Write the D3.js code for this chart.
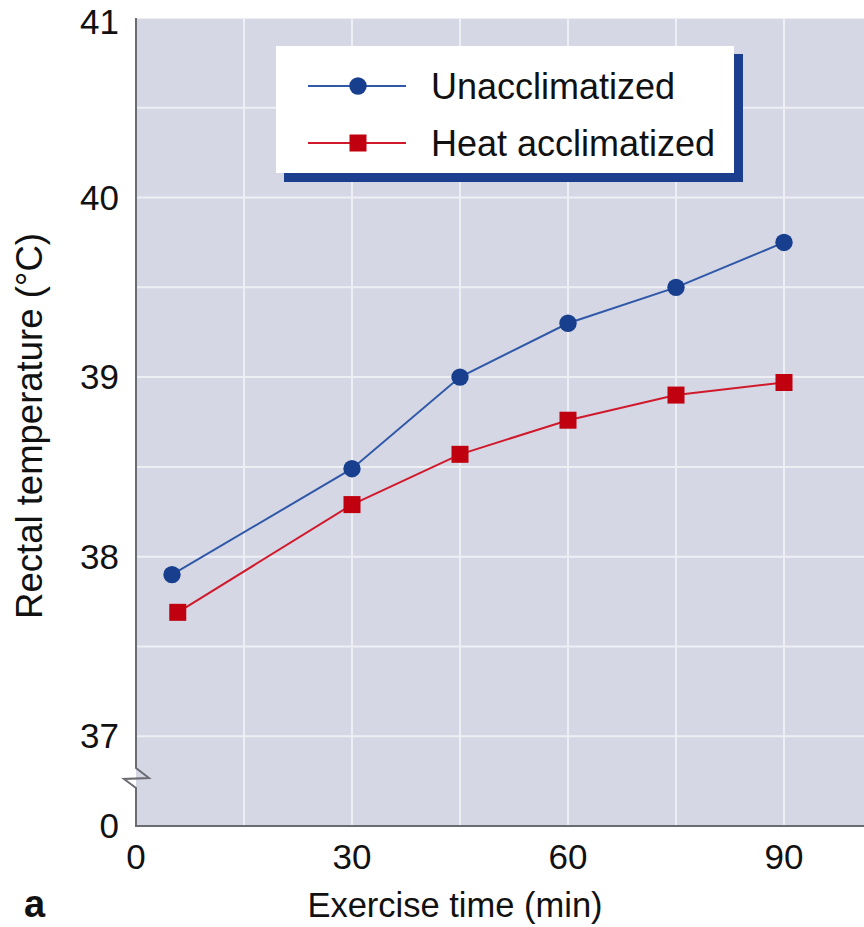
<!DOCTYPE html>
<html>
<head>
<meta charset="utf-8">
<script src="https://cdn.jsdelivr.net/npm/d3@7"></script>
<style>
    body { margin: 0; background: white; }
    svg { display: block; font-family: "Liberation Sans", Arial, Helvetica, sans-serif; }
</style>
</head>
<body>
<div id="chart"></div>
<script>
// データ
const unaccTime = [5, 30, 45, 60, 75, 90];
const unaccTemp = [37.9, 38.49, 39.0, 39.3, 39.5, 39.75];
const heatTime = [5.8, 30, 45, 60, 75, 90];
const heatTemp = [37.69, 38.29, 38.57, 38.76, 38.9, 38.97];

const seriesNames = ['Unacclimatized', 'Heat acclimatized'];

// 目盛り (36.5 の位置に軸の省略記号付きで "0" を表示)
const xTickValues = [0, 30, 60, 90];
const xGridValues = [15, 30, 45, 60, 75, 90];
const yTickValues = [36.5, 37, 38, 39, 40, 41];
const yTickLabels = ['0', '37', '38', '39', '40', '41'];
const yGridValues = [37, 37.5, 38, 38.5, 39, 39.5, 40, 40.5];

const colors = {
    bg: '#d6d7e5',
    grid: '#eeeff5',
    axis: '#6b6b72',
    blueLine: '#2f58a8',
    blue: '#173f8d',
    redLine: '#d01a2c',
    red: '#c0000f',
    shadow: '#1b3f8e'
};

const width = 864;
const height = 927;
const plot = {left: 136, right: 864, top: 18, bottom: 826};

const svg = d3
    .select('#chart')
    .append('svg')
    .attr('width', width)
    .attr('height', height)
    .attr('viewBox', `0 0 ${width} ${height}`);

const x = d3.scaleLinear().domain([0, 90]).range([plot.left, 784]);
const y = d3.scaleLinear().domain([36.5, 41]).range([plot.bottom, plot.top]);

// 背景
svg.append('rect')
    .attr('x', plot.left)
    .attr('y', plot.top)
    .attr('width', plot.right - plot.left)
    .attr('height', plot.bottom - plot.top)
    .attr('fill', colors.bg);

// グリッド線
svg.append('g')
    .selectAll('line')
    .data(xGridValues)
    .enter()
    .append('line')
    .attr('x1', d => x(d))
    .attr('x2', d => x(d))
    .attr('y1', plot.top)
    .attr('y2', plot.bottom)
    .attr('stroke', colors.grid)
    .attr('stroke-width', 2);

svg.append('g')
    .selectAll('line')
    .data(yGridValues)
    .enter()
    .append('line')
    .attr('x1', plot.left)
    .attr('x2', plot.right)
    .attr('y1', d => y(d))
    .attr('y2', d => y(d))
    .attr('stroke', colors.grid)
    .attr('stroke-width', 2);

// 上端の細い線
svg.append('line')
    .attr('x1', plot.left)
    .attr('x2', plot.right)
    .attr('y1', plot.top + 0.5)
    .attr('y2', plot.top + 0.5)
    .attr('stroke', colors.grid)
    .attr('stroke-width', 1);

// 軸 (y 軸は省略記号つき)
const yBreak = 768;
svg.append('path')
    .attr('d', `M${plot.left},${plot.top} L${plot.left},${yBreak} L${plot.left + 13},${yBreak + 10} L${plot.left - 12},${yBreak + 11} L${plot.left},${yBreak + 20} L${plot.left},${plot.bottom}`)
    .attr('fill', 'none')
    .attr('stroke', colors.axis)
    .attr('stroke-width', 2)
    .attr('stroke-linejoin', 'miter');

svg.append('line')
    .attr('x1', plot.left - 1)
    .attr('x2', plot.right)
    .attr('y1', plot.bottom)
    .attr('y2', plot.bottom)
    .attr('stroke', colors.axis)
    .attr('stroke-width', 2);

// 目盛りラベル (一番上は切れないように少し下げる)
svg.append('g')
    .selectAll('text')
    .data(yTickValues)
    .enter()
    .append('text')
    .attr('x', 119)
    .attr('y', d => Math.max(y(d) + 12, 34))
    .attr('text-anchor', 'end')
    .attr('font-size', '35px')
    .attr('fill', '#111')
    .text((d, i) => yTickLabels[i]);

svg.append('g')
    .selectAll('text')
    .data(xTickValues)
    .enter()
    .append('text')
    .attr('x', d => x(d))
    .attr('y', 869)
    .attr('text-anchor', 'middle')
    .attr('font-size', '35px')
    .attr('fill', '#111')
    .text(d => d);

// 軸タイトル
svg.append('text')
    .attr('x', 455)
    .attr('y', 917)
    .attr('text-anchor', 'middle')
    .attr('font-size', '34.5px')
    .attr('fill', '#111')
    .text('Exercise time (min)');

svg.append('text')
    .attr('transform', 'translate(42,426) rotate(-90)')
    .attr('text-anchor', 'middle')
    .attr('font-size', '36.5px')
    .attr('fill', '#111')
    .text('Rectal temperature (°C)');

// パネル記号
svg.append('text')
    .attr('x', 24)
    .attr('y', 917)
    .attr('font-size', '38px')
    .attr('font-weight', 'bold')
    .attr('fill', '#111')
    .text('a');

// 系列の線とマーカー
const unaccData = unaccTime.map((t, i) => ({t: t, v: unaccTemp[i]}));
const heatData = heatTime.map((t, i) => ({t: t, v: heatTemp[i]}));

const line = d3.line()
    .x(d => x(d.t))
    .y(d => y(d.v));

svg.append('path')
    .datum(heatData)
    .attr('d', line)
    .attr('fill', 'none')
    .attr('stroke', colors.redLine)
    .attr('stroke-width', 2);

svg.append('path')
    .datum(unaccData)
    .attr('d', line)
    .attr('fill', 'none')
    .attr('stroke', colors.blueLine)
    .attr('stroke-width', 2);

const sq = 17;
svg.append('g')
    .selectAll('rect')
    .data(heatData)
    .enter()
    .append('rect')
    .attr('x', d => x(d.t) - sq / 2)
    .attr('y', d => y(d.v) - sq / 2)
    .attr('width', sq)
    .attr('height', sq)
    .attr('fill', colors.red);

svg.append('g')
    .selectAll('circle')
    .data(unaccData)
    .enter()
    .append('circle')
    .attr('cx', d => x(d.t))
    .attr('cy', d => y(d.v))
    .attr('r', 8.7)
    .attr('fill', colors.blue);

// 凡例 (青い影つきの白い箱)
const legend = svg.append('g');
legend.append('rect')
    .attr('x', 284)
    .attr('y', 54)
    .attr('width', 459)
    .attr('height', 128)
    .attr('fill', colors.shadow);
legend.append('rect')
    .attr('x', 276)
    .attr('y', 46)
    .attr('width', 458)
    .attr('height', 127)
    .attr('fill', 'white');

const legendRows = [
    {name: seriesNames[0], line: colors.blueLine, mark: colors.blue, shape: 'circle', y: 86},
    {name: seriesNames[1], line: colors.redLine, mark: colors.red, shape: 'square', y: 143}
];

legendRows.forEach(row => {
    legend.append('line')
        .attr('x1', 308)
        .attr('x2', 406)
        .attr('y1', row.y)
        .attr('y2', row.y)
        .attr('stroke', row.line)
        .attr('stroke-width', 2);
    if (row.shape === 'circle') {
        legend.append('circle')
            .attr('cx', 358)
            .attr('cy', row.y)
            .attr('r', 8.7)
            .attr('fill', row.mark);
    } else {
        legend.append('rect')
            .attr('x', 358 - sq / 2)
            .attr('y', row.y - sq / 2)
            .attr('width', sq)
            .attr('height', sq)
            .attr('fill', row.mark);
    }
    legend.append('text')
        .attr('x', 431)
        .attr('y', row.y + 12.5)
        .attr('font-size', '36px')
        .attr('fill', '#111')
        .text(row.name);
});
</script>
</body>
</html>
